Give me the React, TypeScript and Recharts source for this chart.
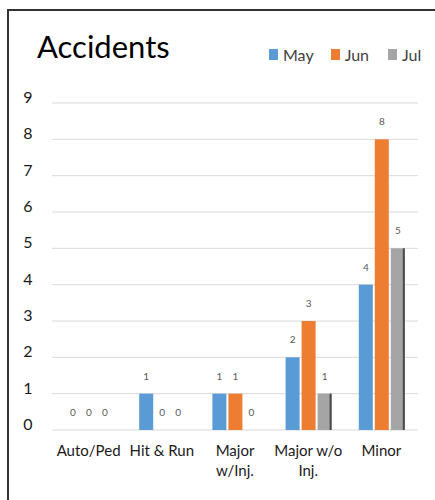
import React from 'react';
import { BarChart, Bar, XAxis, YAxis, CartesianGrid, Legend, LabelList } from 'recharts';

const categories = ['Auto/Ped', 'Hit & Run', 'Major w/Inj.', 'Major w/o Inj.', 'Minor'];
const categoryLines: Record<string, string[]> = {
  'Auto/Ped': ['Auto/Ped'],
  'Hit & Run': ['Hit & Run'],
  'Major w/Inj.': ['Major', 'w/Inj.'],
  'Major w/o Inj.': ['Major w/o', 'Inj.'],
  Minor: ['Minor'],
};
const mayValues = [0, 1, 1, 2, 4];
const junValues = [0, 0, 1, 3, 8];
const julValues = [0, 0, 0, 1, 5];
const yTicks = [0, 1, 2, 3, 4, 5, 6, 7, 8, 9];

const series = [
  { key: 'May', color: '#5B9BD5' },
  { key: 'Jun', color: '#ED7D31' },
  { key: 'Jul', color: '#A5A5A5' },
];

const data = categories.map((name, i) => ({
  name,
  May: mayValues[i],
  Jun: junValues[i],
  Jul: julValues[i],
}));

const FONT = 'Lato, "Open Sans", sans-serif';

const YTick = ({ y, payload }: any) => (
  <text x={28} y={y} textAnchor="middle" fontSize={16} fill="#1a1a1a" fontFamily={FONT}>
    {payload.value}
  </text>
);

const XTick = ({ x, y, payload }: any) => {
  const lines = categoryLines[payload.value] || [payload.value];
  return (
    <text x={x} y={y} textAnchor="middle" fontSize={15} fill="#1a1a1a" fontFamily={FONT}>
      {lines.map((line, i) => (
        <tspan key={i} x={x} dy={i === 0 ? 24 : 20}>
          {line}
        </tspan>
      ))}
    </text>
  );
};

// plain bar; zero-height entries keep their slot so the "0" labels still draw
const makeShape = (color: string, edge?: string) => (props: any) => {
  const { x, y, width, height } = props;
  if (!height || height <= 0) return <g />;
  return (
    <g>
      <rect x={x} y={y} width={width} height={height} fill={color} />
      {edge && <rect x={x + width - 2} y={y} width={2} height={height} fill={edge} />}
    </g>
  );
};

// value label above each bar, zeros included
const ValueLabel = (props: any) => {
  const { x, y, width, value } = props;
  if (value === undefined || value === null) return null;
  return (
    <text x={x + width / 2} y={y - 14} textAnchor="middle" fontSize={10} fill="#595959" fontFamily={FONT}>
      {value}
    </text>
  );
};

const LegendContent = () => (
  <div style={{ display: 'flex', alignItems: 'center', fontFamily: FONT, fontSize: 16, color: '#404040' }}>
    {series.map((s, i) => (
      <div key={s.key} style={{ display: 'flex', alignItems: 'center', marginRight: i === 0 ? 17 : 19 }}>
        <span style={{ width: 9, height: 11, background: s.color, display: 'inline-block', marginRight: 5 }} />
        <span>{s.key}</span>
      </div>
    ))}
  </div>
);

export default function App() {
  return (
    <div
      style={{
        position: 'fixed',
        left: 0,
        top: 0,
        width: 435,
        height: 500,
        background: '#fff',
        overflow: 'hidden',
      }}
    >
      {/* frame: left and top edges only */}
      <svg width={435} height={500} style={{ position: 'absolute', left: 0, top: 0 }}>
        <path d="M8 500 V10 H435" fill="none" stroke="#333" strokeWidth={2} />
      </svg>
      <div
        style={{
          position: 'absolute',
          left: 37,
          top: 27,
          fontFamily: FONT,
          fontSize: 31,
          color: '#000',
        }}
      >
        Accidents
      </div>
      <div style={{ position: 'absolute', left: 0, top: 0 }}>
        <BarChart
          width={435}
          height={500}
          data={data}
          margin={{ top: 103, right: 17, bottom: 0, left: 0 }}
          barSize={14}
          barGap={2}
        >
          <CartesianGrid vertical={false} stroke="#D9D9D9" />
          <XAxis
            dataKey="name"
            axisLine={false}
            tickLine={false}
            tickSize={0}
            tick={<XTick />}
            interval={0}
            height={70}
          />
          <YAxis
            domain={[0, 9]}
            ticks={yTicks}
            axisLine={false}
            tickLine={false}
            tick={<YTick />}
            width={52}
          />
          <Legend
            verticalAlign="middle"
            layout="horizontal"
            content={<LegendContent />}
            wrapperStyle={{ position: 'absolute', top: 45, left: 269, width: 166 }}
          />
          <Bar dataKey="May" fill="#5B9BD5" shape={makeShape('#5B9BD5')} isAnimationActive={false}>
            <LabelList dataKey="May" content={<ValueLabel />} />
          </Bar>
          <Bar dataKey="Jun" fill="#ED7D31" shape={makeShape('#ED7D31')} isAnimationActive={false}>
            <LabelList dataKey="Jun" content={<ValueLabel />} />
          </Bar>
          <Bar dataKey="Jul" fill="#A5A5A5" shape={makeShape('#A5A5A5', '#4a4a4a')} isAnimationActive={false}>
            <LabelList dataKey="Jul" content={<ValueLabel />} />
          </Bar>
        </BarChart>
      </div>
    </div>
  );
}
